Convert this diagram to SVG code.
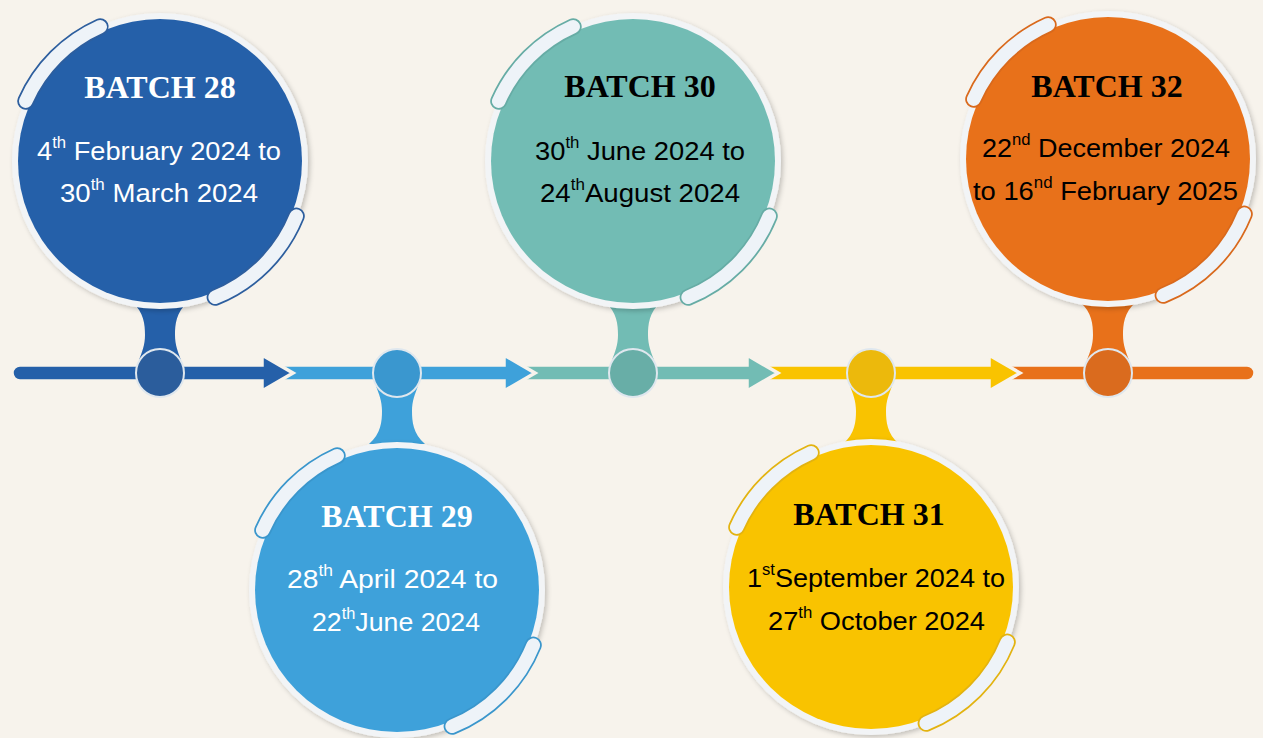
<svg xmlns="http://www.w3.org/2000/svg" width="1263" height="738" viewBox="0 0 1263 738">
<style>
.bg{fill:#f7f3ec}
.seg{stroke:#f7f3ec;stroke-width:3.5;stroke-linejoin:miter}
.rim{fill:#f2f4f6;filter:url(#sh)}
.capo{fill:none;stroke-width:17px;stroke-linecap:round}
.capi{fill:none;stroke:#eef3f8;stroke-width:13.5px;stroke-linecap:round}
.knob{stroke:#dfe7ee;stroke-width:2}
.title{font-family:"Liberation Serif","Times New Roman",serif;font-weight:bold;font-size:32px;text-anchor:middle}
.date{font-family:"Liberation Sans",Arial,sans-serif;font-size:26px}
.sup{font-size:16px}
.w{fill:#ffffff}
.k{fill:#000000}
</style>
<defs>
<filter id="sh" x="-10%" y="-10%" width="120%" height="120%">
<feDropShadow dx="2" dy="2" stdDeviation="2.5" flood-color="#000" flood-opacity="0.22"/>
</filter>
<path id="stemT" d="M-28,302 C-16,312 -15,325 -15,335 C-15,345 -18,352 -21,360 L21,360 C18,352 15,345 15,335 C15,325 16,312 28,302 Z"/>
<path id="stemB" d="M-28,444 C-16,434 -15,421 -15,411 C-15,401 -18,394 -21,386 L21,386 C18,394 15,401 15,411 C15,421 16,434 28,444 Z"/>
</defs>
<rect class="bg" x="0" y="0" width="1263" height="738"/>

<g id="connectors">
<path class="seg" fill="#e8711a" d="M1000,365 H1247 A8,8 0 0 1 1247,381 H1000 Z"/>
<path class="seg" fill="#f9c300" d="M760,365 H989 V355 L1020,373 L989,391 V381 H760 Z"/>
<path class="seg" fill="#72bcb4" d="M518,365 H747 V355 L778,373 L747,391 V381 H518 Z"/>
<path class="seg" fill="#3ea1da" d="M275,365 H504 V355 L535,373 L504,391 V381 H275 Z"/>
<path class="seg" fill="#2560a9" d="M20,365 H262 V355 L293,373 L262,391 V381 H20 A8,8 0 0 1 20,365 Z"/>
</g>

<g id="batch28">
<use href="#stemT" x="160" fill="#2560a9"/>
<circle class="knob" cx="160" cy="373" r="24" fill="#2b5d9c"/>
<circle class="rim" cx="160" cy="161" r="148"/>
<circle cx="160" cy="161" r="142" fill="#2560a9"/>
<path class="capo" stroke="#2d5e9e" d="M25.7,101.2 A147,147 0 0 1 100.2,26.7"/>
<path class="capi" d="M25.7,101.2 A147,147 0 0 1 100.2,26.7"/>
<path class="capo" stroke="#2d5e9e" d="M296.3,216.1 A147,147 0 0 1 215.1,297.3"/>
<path class="capi" d="M296.3,216.1 A147,147 0 0 1 215.1,297.3"/>
<text class="title w" x="160" y="98">BATCH 28</text>
<text class="date w" x="37" y="160" textLength="244" lengthAdjust="spacingAndGlyphs">4<tspan class="sup" dy="-12">th</tspan><tspan dy="12"> February 2024 to</tspan></text>
<text class="date w" x="60" y="202" textLength="198" lengthAdjust="spacingAndGlyphs">30<tspan class="sup" dy="-12">th</tspan><tspan dy="12"> March 2024</tspan></text>
</g>

<g id="batch29">
<use href="#stemB" x="397" fill="#3ea1da"/>
<circle class="knob" cx="397" cy="373" r="24" fill="#3a97cf"/>
<circle class="rim" cx="397" cy="590" r="148"/>
<circle cx="397" cy="590" r="142" fill="#3ea1da"/>
<path class="capo" stroke="#3a96cc" d="M262.7,530.2 A147,147 0 0 1 337.2,455.7"/>
<path class="capi" d="M262.7,530.2 A147,147 0 0 1 337.2,455.7"/>
<path class="capo" stroke="#3a96cc" d="M533.3,645.1 A147,147 0 0 1 452.1,726.3"/>
<path class="capi" d="M533.3,645.1 A147,147 0 0 1 452.1,726.3"/>
<text class="title w" x="397" y="527">BATCH 29</text>
<text class="date w" x="287" y="588" textLength="211" lengthAdjust="spacingAndGlyphs">28<tspan class="sup" dy="-12">th</tspan><tspan dy="12"> April 2024 to</tspan></text>
<text class="date w" x="312" y="631" textLength="168" lengthAdjust="spacingAndGlyphs">22<tspan class="sup" dy="-12">th</tspan><tspan dy="12">June 2024</tspan></text>
</g>

<g id="batch30">
<use href="#stemT" x="633" fill="#72bcb4"/>
<circle class="knob" cx="633" cy="373" r="24" fill="#68aea7"/>
<circle class="rim" cx="633" cy="161" r="148"/>
<circle cx="633" cy="161" r="142" fill="#72bcb4"/>
<path class="capo" stroke="#66aca5" d="M498.7,101.2 A147,147 0 0 1 573.2,26.7"/>
<path class="capi" d="M498.7,101.2 A147,147 0 0 1 573.2,26.7"/>
<path class="capo" stroke="#66aca5" d="M769.3,216.1 A147,147 0 0 1 688.1,297.3"/>
<path class="capi" d="M769.3,216.1 A147,147 0 0 1 688.1,297.3"/>
<text class="title k" x="640" y="97">BATCH 30</text>
<text class="date k" x="535" y="160" textLength="210" lengthAdjust="spacingAndGlyphs">30<tspan class="sup" dy="-12">th</tspan><tspan dy="12"> June 2024 to</tspan></text>
<text class="date k" x="540" y="202" textLength="200" lengthAdjust="spacingAndGlyphs">24<tspan class="sup" dy="-12">th</tspan><tspan dy="12">August 2024</tspan></text>
</g>

<g id="batch31">
<use href="#stemB" x="871" fill="#f9c300"/>
<circle class="knob" cx="871" cy="373" r="24" fill="#ecb90c"/>
<circle class="rim" cx="871" cy="587" r="148"/>
<circle cx="871" cy="587" r="142" fill="#f9c300"/>
<path class="capo" stroke="#e3b310" d="M736.7,527.2 A147,147 0 0 1 811.2,452.7"/>
<path class="capi" d="M736.7,527.2 A147,147 0 0 1 811.2,452.7"/>
<path class="capo" stroke="#e3b310" d="M1007.3,642.1 A147,147 0 0 1 926.1,723.3"/>
<path class="capi" d="M1007.3,642.1 A147,147 0 0 1 926.1,723.3"/>
<text class="title k" x="869" y="525">BATCH 31</text>
<text class="date k" x="747" y="587" textLength="258" lengthAdjust="spacingAndGlyphs">1<tspan class="sup" dy="-12">st</tspan><tspan dy="12">September 2024 to</tspan></text>
<text class="date k" x="768" y="630" textLength="217" lengthAdjust="spacingAndGlyphs">27<tspan class="sup" dy="-12">th</tspan><tspan dy="12"> October 2024</tspan></text>
</g>

<g id="batch32">
<use href="#stemT" x="1108" fill="#e8711a"/>
<circle class="knob" cx="1108" cy="373" r="24" fill="#da6b1e"/>
<circle class="rim" cx="1108" cy="159" r="148"/>
<circle cx="1108" cy="159" r="142" fill="#e8711a"/>
<path class="capo" stroke="#d9691c" d="M973.7,99.2 A147,147 0 0 1 1048.2,24.7"/>
<path class="capi" d="M973.7,99.2 A147,147 0 0 1 1048.2,24.7"/>
<path class="capo" stroke="#d9691c" d="M1244.3,214.1 A147,147 0 0 1 1163.1,295.3"/>
<path class="capi" d="M1244.3,214.1 A147,147 0 0 1 1163.1,295.3"/>
<text class="title k" x="1107" y="97">BATCH 32</text>
<text class="date k" x="982" y="157" textLength="248" lengthAdjust="spacingAndGlyphs">22<tspan class="sup" dy="-12">nd</tspan><tspan dy="12"> December 2024</tspan></text>
<text class="date k" x="973" y="200" textLength="265" lengthAdjust="spacingAndGlyphs">to 16<tspan class="sup" dy="-12">nd</tspan><tspan dy="12"> February 2025</tspan></text>
</g>
</svg>
